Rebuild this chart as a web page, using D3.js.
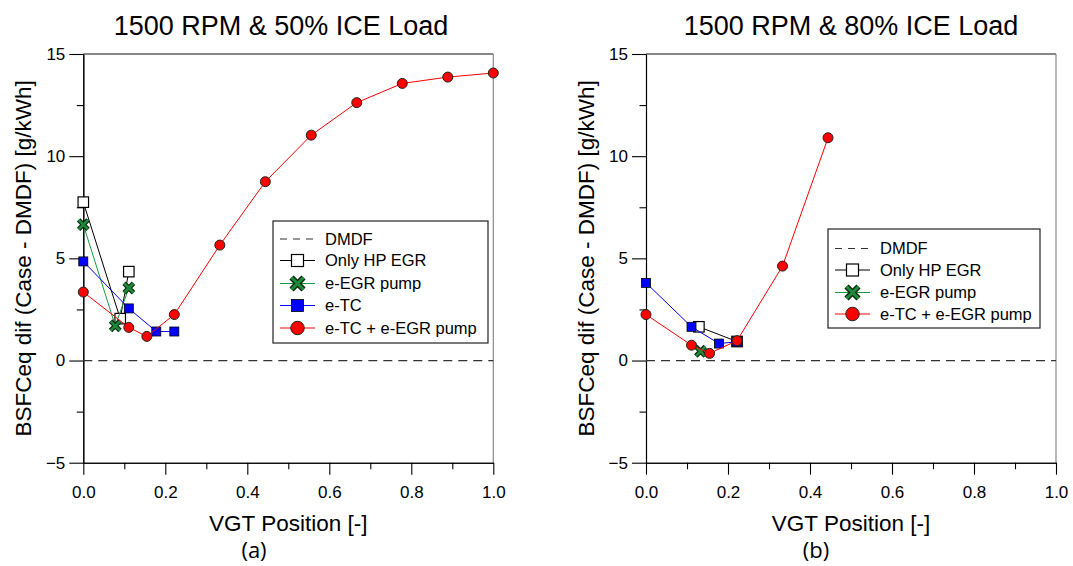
<!DOCTYPE html>
<html><head><meta charset="utf-8">
<script src="https://cdn.jsdelivr.net/npm/d3@7"></script>
<style>
body{margin:0;background:#fff}
svg text{font-family:"Liberation Sans", Arial, sans-serif; fill:#000}
</style>
</head><body>
<svg id="chart" width="1073" height="566"></svg>
<script>
// ---------- data ----------
const titles = ["1500 RPM & 50% ICE Load", "1500 RPM & 80% ICE Load"];
const panelTags = ["(a)", "(b)"];
const xLabel = "VGT Position [-]";
const yLabel = "BSFCeq dif (Case - DMDF) [g/kWh]";
const xMajorTicks = [0, 0.2, 0.4, 0.6, 0.8, 1.0];
const xMinorTicks = [0.1, 0.3, 0.5, 0.7, 0.9];
const yMajorTicks = [-5, 0, 5, 10, 15];
const yMinorTicks = [-2.5, 2.5, 7.5, 12.5];
const dmdfX = [0, 1];
const dmdfY = [0, 0];

// panel (a)
const aOnlyHpX = [0, 0.09, 0.111];
const aOnlyHpY = [7.75, 2.05, 4.35];
const aEgrPumpX = [0, 0.078, 0.111];
const aEgrPumpY = [6.65, 1.7, 3.55];
const aEtcX = [0, 0.111, 0.178, 0.222];
const aEtcY = [4.85, 2.55, 1.42, 1.42];
const aEtcPumpX = [0, 0.111, 0.155, 0.222, 0.333, 0.444, 0.556, 0.667, 0.778, 0.889, 1.0];
const aEtcPumpY = [3.35, 1.62, 1.18, 2.25, 5.65, 8.75, 11.03, 12.62, 13.56, 13.87, 14.07];

// panel (b)
const bOnlyHpX = [0.129, 0.222];
const bOnlyHpY = [1.65, 0.93];
const bEgrPumpX = [0.133];
const bEgrPumpY = [0.45];
const bEtcX = [0, 0.111, 0.178, 0.222];
const bEtcY = [3.8, 1.65, 0.83, 0.92];
const bEtcPumpX = [0, 0.111, 0.155, 0.222, 0.333, 0.444];
const bEtcPumpY = [2.25, 0.75, 0.35, 0.97, 4.62, 10.9];

const legendA = ["DMDF", "Only HP EGR", "e-EGR pump", "e-TC", "e-TC + e-EGR pump"];
const legendB = ["DMDF", "Only HP EGR", "e-EGR pump", "e-TC + e-EGR pump"];

// ---------- styles ----------
const styles = {
  "DMDF": {line: "#333", dash: "9,6", marker: null},
  "Only HP EGR": {line: "#000", marker: "openSquare"},
  "e-EGR pump": {line: "#1a9a3c", marker: "x"},
  "e-TC": {line: "#0000ff", marker: "blueSquare"},
  "e-TC + e-EGR pump": {line: "#ff0000", marker: "circle"}
};

const zip = (xs, ys) => xs.map((x, i) => [x, ys[i]]);

const panels = [
  {x0: 83.3, x1: 493.3, title: titles[0], titleX: 281, tag: panelTags[0], tagX: 254,
   series: [
     ["DMDF", zip(dmdfX, dmdfY)],
     ["Only HP EGR", zip(aOnlyHpX, aOnlyHpY)],
     ["e-EGR pump", zip(aEgrPumpX, aEgrPumpY)],
     ["e-TC", zip(aEtcX, aEtcY)],
     ["e-TC + e-EGR pump", zip(aEtcPumpX, aEtcPumpY)]
   ],
   legend: legendA, lg: {x: 273, y: 221, w: 215, h: 122, rows: [239, 260.5, 283.5, 305.5, 328], symX: 280, symW: 35, textX: 325}},
  {x0: 646, x1: 1056, title: titles[1], titleX: 851, tag: panelTags[1], tagX: 816,
   series: [
     ["DMDF", zip(dmdfX, dmdfY)],
     ["Only HP EGR", zip(bOnlyHpX, bOnlyHpY)],
     ["e-EGR pump", zip(bEgrPumpX, bEgrPumpY)],
     ["e-TC", zip(bEtcX, bEtcY)],
     ["e-TC + e-EGR pump", zip(bEtcPumpX, bEtcPumpY)]
   ],
   legend: legendB, lg: {x: 828, y: 229, w: 212, h: 99, rows: [248.5, 270, 292.5, 314], symX: 835, symW: 35, textX: 880}}
];

const yTop = 54, yBot = 462.7;
const svg = d3.select("#chart");

function drawMarker(g, type, cx, cy, s) {
  if (type === "openSquare") {
    g.append("rect").attr("x", cx - s/2).attr("y", cy - s/2).attr("width", s).attr("height", s)
      .attr("fill", "#fff").attr("stroke", "#000").attr("stroke-width", 1.2);
  } else if (type === "blueSquare") {
    g.append("rect").attr("x", cx - s/2).attr("y", cy - s/2).attr("width", s).attr("height", s)
      .attr("fill", "#0000ff").attr("stroke", "#000").attr("stroke-width", 0.8);
  } else if (type === "circle") {
    g.append("circle").attr("cx", cx).attr("cy", cy).attr("r", s/2)
      .attr("fill", "#ff0000").attr("stroke", "#222").attr("stroke-width", 1);
  } else if (type === "x") {
    const h = s/2 - 1;
    const p = `M${cx-h},${cy-h}L${cx+h},${cy+h}M${cx-h},${cy+h}L${cx+h},${cy-h}`;
    g.append("path").attr("d", p).attr("stroke", "#0a2a10").attr("stroke-width", s*0.42).attr("stroke-linecap", "butt");
    g.append("path").attr("d", p).attr("stroke", "#1f8a3a").attr("stroke-width", s*0.22).attr("stroke-linecap", "butt");
  }
}

panels.forEach(P => {
  const x = d3.scaleLinear().domain([0, 1]).range([P.x0, P.x1]);
  const y = d3.scaleLinear().domain([-5, 15]).range([yBot, yTop]);
  const g = svg.append("g");

  // frame top/right
  g.append("line").attr("x1", P.x0).attr("x2", P.x1).attr("y1", yTop).attr("y2", yTop)
    .attr("stroke", "#111").attr("stroke-width", 1);
  g.append("line").attr("x1", P.x1).attr("x2", P.x1).attr("y1", yTop).attr("y2", yBot)
    .attr("stroke", "#888").attr("stroke-width", 1.2);

  // axes
  const xMaj = d3.axisBottom(x).tickValues(xMajorTicks).tickFormat(d3.format(".1f")).tickSize(12).tickSizeOuter(0).tickPadding(11);
  const xMin = d3.axisBottom(x).tickValues(xMinorTicks).tickFormat("").tickSize(6.5).tickSizeOuter(0);
  const yMaj = d3.axisLeft(y).tickValues(yMajorTicks).tickFormat(d3.format("d")).tickSize(14).tickSizeOuter(0).tickPadding(4);
  const yMin = d3.axisLeft(y).tickValues(yMinorTicks).tickFormat("").tickSize(6.5).tickSizeOuter(0);
  [xMaj, xMin].forEach(a => g.append("g").attr("transform", `translate(0,${yBot})`).call(a));
  [yMaj, yMin].forEach(a => g.append("g").attr("transform", `translate(${P.x0},0)`).call(a));
  g.selectAll(".tick text").attr("font-size", 17).attr("font-family", '"Liberation Sans", Arial, sans-serif');
  g.selectAll(".domain, .tick line").attr("stroke", "#000").attr("stroke-width", 1.1);

  // title / labels
  g.append("text").attr("x", P.titleX).attr("y", 35).attr("text-anchor", "middle")
    .attr("font-size", 27).text(P.title);
  g.append("text").attr("x", (P.x0 + P.x1)/2).attr("y", 531).attr("text-anchor", "middle")
    .attr("font-size", 22.5).text(xLabel);
  g.append("text").attr("transform", `translate(${P.x0 - 52},${(yTop + yBot)/2}) rotate(-90)`)
    .attr("text-anchor", "middle").attr("font-size", 22.5).text(yLabel);
  g.append("text").attr("x", P.tagX).attr("y", 558).attr("text-anchor", "middle")
    .attr("font-size", 22).style("font-family", '"Open Sans", sans-serif').text(P.tag);

  // series
  const line = d3.line().x(d => x(d[0])).y(d => y(d[1]));
  P.series.forEach(([name, pts]) => {
    const st = styles[name];
    const sg = g.append("g");
    sg.append("path").datum(pts).attr("d", line).attr("fill", "none")
      .attr("stroke", st.line).attr("stroke-width", name === "DMDF" ? 1.2 : 1)
      .attr("stroke-dasharray", st.dash || null);
    if (st.marker) {
      const size = st.marker === "openSquare" ? 10.5 : st.marker === "blueSquare" ? 9 : st.marker === "circle" ? 10 : 11.5;
      pts.forEach(d => drawMarker(sg, st.marker, x(d[0]), y(d[1]), size));
    }
  });

  // legend
  const L = P.lg;
  const lg = g.append("g");
  lg.append("rect").attr("x", L.x).attr("y", L.y).attr("width", L.w).attr("height", L.h)
    .attr("fill", "#fff").attr("stroke", "#222").attr("stroke-width", 1.2);
  P.legend.forEach((name, i) => {
    const st = styles[name];
    const cy = L.rows[i];
    lg.append("line").attr("x1", L.symX).attr("x2", L.symX + L.symW).attr("y1", cy).attr("y2", cy)
      .attr("stroke", st.line).attr("stroke-width", 1.2).attr("stroke-dasharray", st.dash ? "7,6" : null);
    if (st.marker) {
      const size = st.marker === "circle" ? 13.5 : st.marker === "x" ? 14 : 12;
      drawMarker(lg, st.marker, L.symX + L.symW/2, cy, size);
    }
    lg.append("text").attr("x", L.textX).attr("y", cy).attr("dy", "0.36em")
      .attr("font-size", 16.5).text(name);
  });
});
</script>
</body></html>
